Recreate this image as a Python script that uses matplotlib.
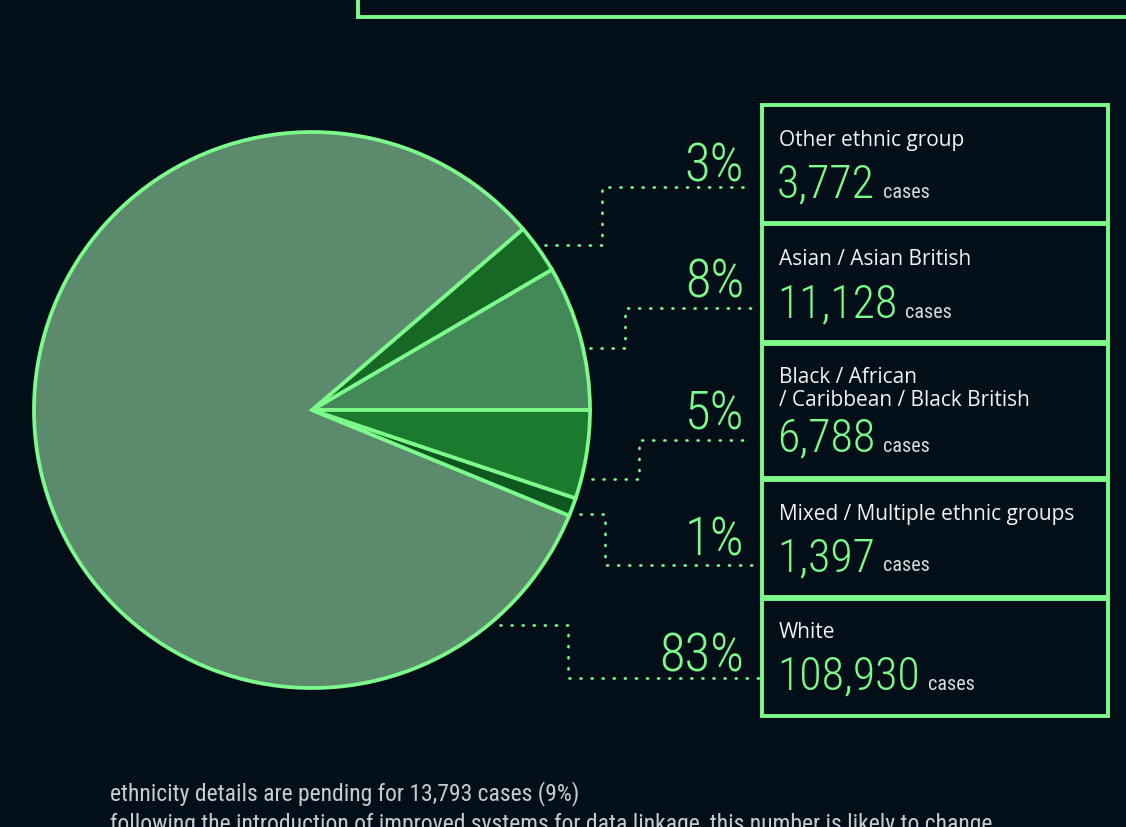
import matplotlib
matplotlib.use('Agg')
import numpy as np
import matplotlib.pyplot as plt
from matplotlib import font_manager as fm
from matplotlib.patches import Rectangle

# data
groups = ['Other ethnic group', 'Asian / Asian British',
          'Black / African\n/ Caribbean / Black British',
          'Mixed / Multiple ethnic groups', 'White']
cases = [3772, 11128, 6788, 1397, 108930]
pct_labels = ['3%', '8%', '5%', '1%', '83%']
pending_cases = 13793
pending_pct = '9%'
note2 = 'following the introduction of improved systems for data linkage, this number is likely to change'

# slice colours, same order as groups
slice_colors = ['#166824', '#438957', '#1a7a2d', '#0e571e', '#5b8a6c']
# pie runs from 3 o'clock upwards: Asian, Other, White, Mixed, Black
pie_order = [1, 0, 4, 3, 2]

BG = '#020e18'
GREEN = '#7dfa8c'


def pick(names):
    for n in names:
        try:
            fm.findfont(n, fallback_to_default=False)
            return n
        except ValueError:
            pass
    return 'DejaVu Sans'


narrow = pick(['Roboto Condensed', 'Liberation Sans Narrow', 'Open Sans Condensed', 'DejaVu Sans'])
sans = pick(['Open Sans', 'Noto Sans', 'DejaVu Sans'])

fig = plt.figure(figsize=(11.26, 8.27), dpi=100, facecolor=BG)
ax = fig.add_axes([0, 0, 1, 1])
ax.set_facecolor(BG)

ax.pie([cases[i] for i in pie_order], colors=[slice_colors[i] for i in pie_order],
       startangle=0, counterclock=False, center=(312, 410), radius=278,
       wedgeprops=dict(edgecolor=GREEN, linewidth=2.7, joinstyle='miter'))

ax.set_xlim(0, 1126)
ax.set_ylim(827, 0)
ax.set_aspect('auto')
ax.axis('off')

# top box cut by the edge of the picture
ax.add_patch(Rectangle((358, -20), 800, 37, fill=False, edgecolor=GREEN, lw=2.8))

# layout of the legend boxes
box_top = [105, 224, 344, 480, 599]
box_bot = [223, 342, 478, 597, 716]
label_base = [146, 265, 383, 520, 638]
num_base = [198, 318, 452, 571, 690]
pct_base = [182, 298, 430, 555, 672]
# leader lines: start x, start y, elbow x, end y, end x
leaders = [(545, 245, 602, 187, 750),
           (590, 348, 625, 308, 760),
           (592, 479, 639, 440, 750),
           (580, 514, 605, 565, 760),
           (500, 625, 568, 678, 760)]

fig.canvas.draw()
renderer = fig.canvas.get_renderer()

for i, g in enumerate(groups):
    ax.add_patch(Rectangle((762, box_top[i]), 346, box_bot[i] - box_top[i],
                           fill=False, edgecolor=GREEN, lw=2.8))
    for k, line in enumerate(g.split('\n')):
        ax.text(779, label_base[i] + 23 * k, line, color='#f2f2f2', fontsize=15,
                family=sans, va='baseline', ha='left')
    t = ax.text(777, num_base[i], f'{cases[i]:,}', color=GREEN, fontsize=33,
                family=narrow, weight='light', va='baseline', ha='left')
    x1 = t.get_window_extent(renderer).x1
    ax.text(x1 + 8, num_base[i], 'cases', color='#d8dcdc', fontsize=14.5,
            family=narrow, va='baseline', ha='left')
    ax.text(744, pct_base[i], pct_labels[i], color=GREEN, fontsize=38,
            family=narrow, weight='light', va='baseline', ha='right')
    sx, sy, ex, ey, tx = leaders[i]
    ax.plot([sx, ex, ex, tx], [sy, sy, ey, ey], color=GREEN, lw=1.9,
            linestyle=(0, (0.4, 3.8)), dash_capstyle='round')

ax.text(110, 800, f'ethnicity details are pending for {pending_cases:,} cases ({pending_pct})',
        color='#c8ccd0', fontsize=17, family=narrow, va='baseline', ha='left')
ax.text(110, 831, note2, color='#c8ccd0', fontsize=17, family=narrow,
        va='baseline', ha='left')

fig.savefig('out.png', dpi=100, facecolor=BG)
